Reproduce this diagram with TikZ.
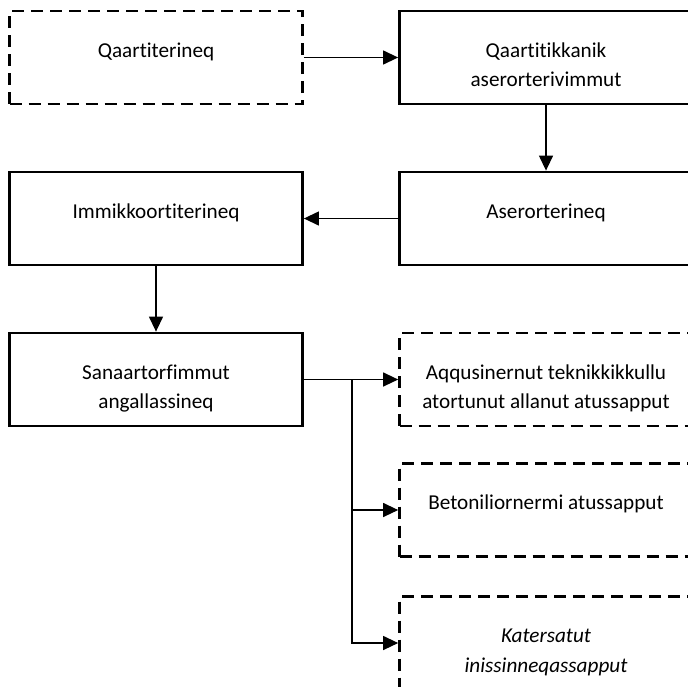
\documentclass[tikz,border=0pt]{standalone}
\usepackage{fontspec}
\setmainfont[Ligatures={NoCommon,NoContextual}]{Carlito}
\usepackage{tikz}
\usetikzlibrary{arrows.meta}
\newcommand{\boxtxt}[1]{\parbox[c][46.5pt][t]{146.5pt}{\centering\rule{0pt}{23pt}#1}}

\begin{document}
\begin{tikzpicture}[x=0.5pt,y=-0.5pt]
\tikzstyle{phase}=[draw=black,line width=1.4pt,inner sep=0pt,font=\fontsize{10.6}{14.75}\selectfont]
\tikzstyle{outcome}=[phase,dash pattern=on 6pt off 3.5pt,line width=1.35pt]
\tikzstyle{link}=[-{Triangle[length=7.5pt,width=7pt]},line width=0.65pt]
\useasboundingbox (0,0) rectangle (688,686);
\clip (0,0) rectangle (688,686);
\node [outcome] (b1) at (156,57.5) {\boxtxt{Qaartiterineq}};
\node [phase] (b2) at (546,57.5) {\boxtxt{Qaartitikkanik\\aserorterivimmut}};
\node [phase] (b3) at (546,218.5) {\boxtxt{Aserorterineq}};
\node [phase] (b4) at (156,218.5) {\boxtxt{Immikkoortiterineq}};
\node [phase] (b5) at (156,379.5) {\boxtxt{Sanaartorfimmut\\angallassineq}};
\node [outcome] (d1) at (546,379.5) {\boxtxt{Aqqusinernut teknikkikkullu\\atortunut allanut atussapput}};
\node [outcome] (d2) at (546,510) {\boxtxt{Betoniliornermi atussapput}};
\node [outcome] (d3) at (546,643) {\boxtxt{\itshape Katersatut\\inissinneqassapput}};
\coordinate (j) at (352,379.5);
\draw [link] (b1) -- (b2);
\draw [link] (b2) -- (b3);
\draw [link] (b3) -- (b4);
\draw [link] (b4) -- (b5);
\draw [line width=0.9pt] (b5.east) -- (j);
\draw [link] (j) -- (d1);
\draw [link] (j) |- (d2);
\draw [link] (j) |- (d3);
\end{tikzpicture}
\end{document}
